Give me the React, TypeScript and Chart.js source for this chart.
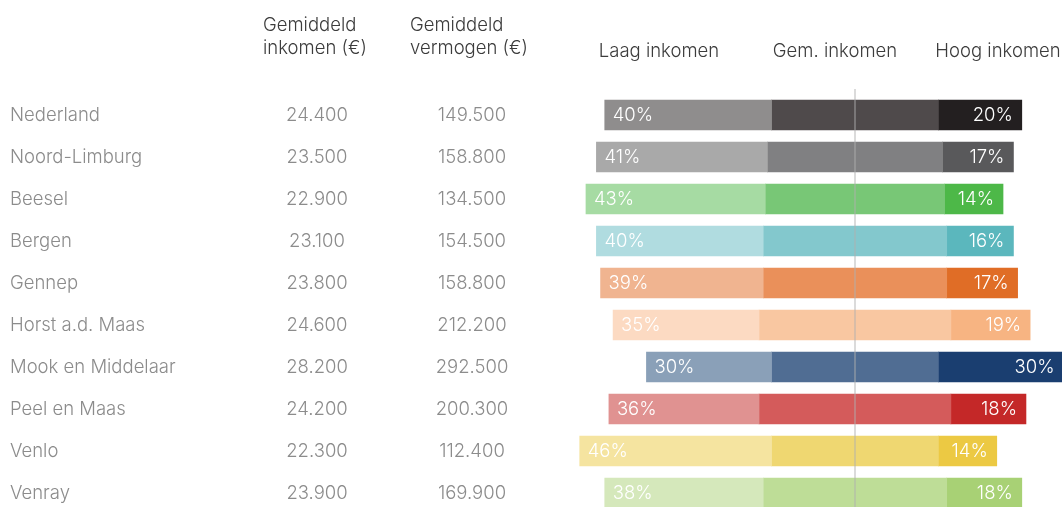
import React, { useEffect, useRef } from "react";
import { Chart, registerables } from "chart.js";

Chart.register(...registerables);

const regions = [
  "Nederland",
  "Noord-Limburg",
  "Beesel",
  "Bergen",
  "Gennep",
  "Horst a.d. Maas",
  "Mook en Middelaar",
  "Peel en Maas",
  "Venlo",
  "Venray",
];
const avgIncome = [24400, 23500, 22900, 23100, 23800, 24600, 28200, 24200, 22300, 23900];
const avgWealth = [149500, 158800, 134500, 154500, 158800, 212200, 292500, 200300, 112400, 169900];
const lowPct = [40, 41, 43, 40, 39, 35, 30, 36, 46, 38];
const highPct = [20, 17, 14, 16, 17, 19, 30, 18, 14, 18];
const midPct = lowPct.map((l, i) => 100 - l - highPct[i]);

const lowColors = ["#8f8d8d", "#a9a9a9", "#a6dba3", "#b0dce0", "#f0b490", "#fcdac2", "#8aa0b8", "#e09291", "#f5e4a0", "#d5e8bb"];
const midColors = ["#4f4a4b", "#808082", "#78c776", "#83c8cd", "#ea905a", "#f9c7a1", "#506d93", "#d45b5b", "#efd771", "#bedd97"];
const highColors = ["#231f20", "#59595b", "#4db848", "#5bb7bd", "#e06d26", "#f7b482", "#1a3e70", "#c42828", "#ecc943", "#a8d175"];

const colHeaders = ["Gemiddeld|inkomen (€)", "Gemiddeld|vermogen (€)"];
const segHeaders = ["Laag inkomen", "Gem. inkomen", "Hoog inkomen"];

const FONT = '300 18.5px Inter, Roboto, "Noto Sans", sans-serif';

function fmt(n: number): string {
  return String(n).replace(/\B(?=(\d{3})+(?!\d))/g, ".");
}

export default function App() {
  const ref = useRef<HTMLCanvasElement | null>(null);

  useEffect(() => {
    document.body.style.margin = "0";
    const canvas = ref.current!;
    const lowData = lowPct.map((l, i) => [-(midPct[i] / 2 + l), -midPct[i] / 2]);
    const midData = midPct.map((m) => [-m / 2, m / 2]);
    const highData = highPct.map((h, i) => [midPct[i] / 2, midPct[i] / 2 + h]);

    const textPlugin = {
      id: "texts",
      afterDatasetsDraw(chart: any) {
        const ctx = chart.ctx as CanvasRenderingContext2D;
        const xs = chart.scales.x;
        const ys = chart.scales.y;
        ctx.save();
        // center line
        const cx = Math.round(xs.getPixelForValue(0));
        ctx.fillStyle = "rgba(175,175,175,0.45)";
        ctx.fillRect(cx - 1, 89, 2, chart.height - 89);

        ctx.font = FONT;
        ctx.textBaseline = "middle";
        // headers
        ctx.fillStyle = "#3c3c3c";
        ctx.textAlign = "left";
        const hx = [263, 410];
        colHeaders.forEach((h, k) => {
          const [a, b] = h.split("|");
          ctx.fillText(a, hx[k], 25);
          ctx.fillText(b, hx[k], 48);
        });
        ctx.textAlign = "center";
        const sx = [659, 835, 998];
        segHeaders.forEach((h, k) => ctx.fillText(h, sx[k], 51));

        regions.forEach((r, i) => {
          const y = ys.getPixelForValue(i);
          ctx.fillStyle = "#8c8c8c";
          ctx.textAlign = "left";
          ctx.fillText(r, 10, y);
          ctx.textAlign = "center";
          ctx.fillText(fmt(avgIncome[i]), 317, y);
          ctx.fillText(fmt(avgWealth[i]), 472, y);
          ctx.fillStyle = "#ffffff";
          ctx.textAlign = "left";
          ctx.fillText(lowPct[i] + "%", xs.getPixelForValue(lowData[i][0]) + 8, y);
          ctx.textAlign = "right";
          ctx.fillText(highPct[i] + "%", xs.getPixelForValue(highData[i][1]) - 9, y);
        });
        ctx.restore();
      },
    };

    const chart = new Chart(canvas, {
      type: "bar",
      data: {
        labels: regions,
        datasets: [
          { label: "Laag inkomen", data: lowData as any, backgroundColor: lowColors, grouped: false, barThickness: 30 } as any,
          { label: "Gem. inkomen", data: midData as any, backgroundColor: midColors, grouped: false, barThickness: 30 } as any,
          { label: "Hoog inkomen", data: highData as any, backgroundColor: highColors, grouped: false, barThickness: 30 } as any,
        ],
      },
      options: {
        indexAxis: "y",
        animation: false,
        responsive: false,
        devicePixelRatio: 1,
        layout: { padding: { top: 94, bottom: 6, left: 0, right: 0 } },
        scales: {
          x: { type: "linear", min: -205, max: 49.64, display: false },
          y: { type: "category", display: false, offset: true },
        },
        plugins: { legend: { display: false }, tooltip: { enabled: false } },
      },
      plugins: [textPlugin],
    });
    return () => chart.destroy();
  }, []);

  return (
    <div style={{ position: "absolute", left: 0, top: 0, width: 1062, height: 507, overflow: "hidden", background: "#fff" }}>
      <canvas ref={ref} width={1062} height={520} style={{ display: "block" }} />
    </div>
  );
}
